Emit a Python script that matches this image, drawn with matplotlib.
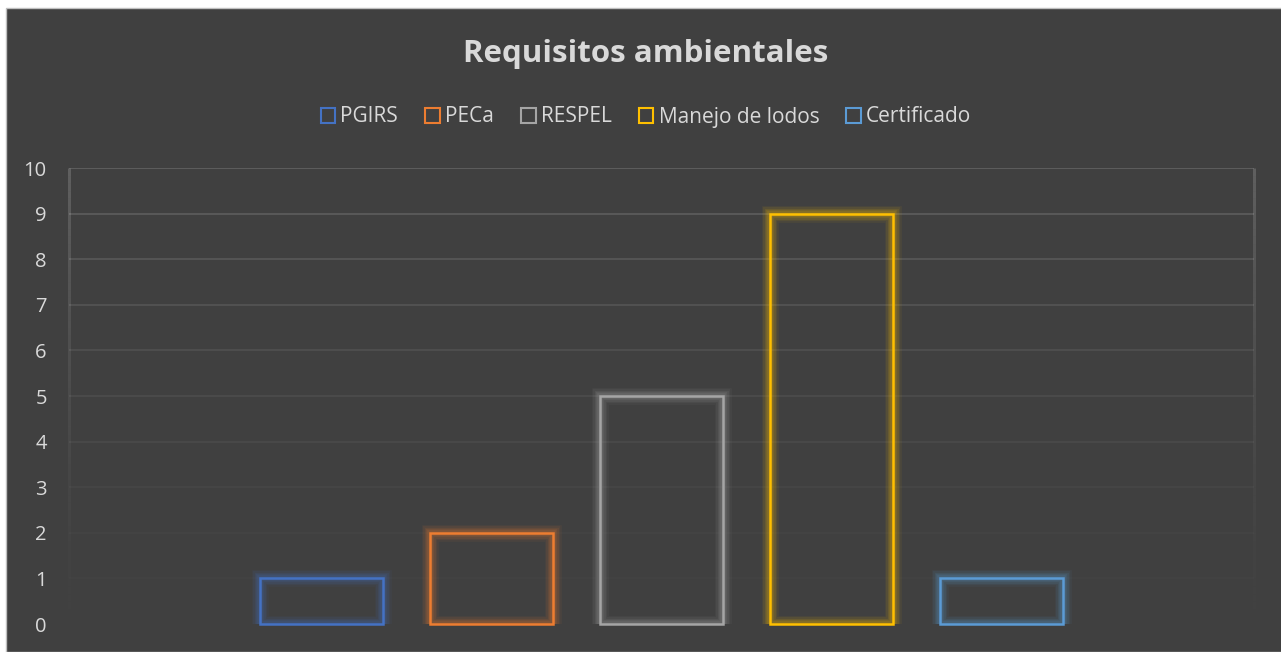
import matplotlib.pyplot as plt
import numpy as np
from matplotlib.patches import Patch, Rectangle
from matplotlib.collections import LineCollection

plt.rcParams['font.family'] = ['Open Sans', 'DejaVu Sans']

series = ["PGIRS", "PECa", "RESPEL", "Manejo de lodos", "Certificado"]
values = [1, 2, 5, 9, 1]
colors = ["#4472C4", "#ED7D31", "#A5A5A5", "#FFC000", "#5B9BD5"]
yticks = list(range(0, 11))

bg = "#404040"
txt = "#D9D9D9"

fig = plt.figure(figsize=(12.81, 6.52), dpi=100, facecolor="white")
fig.patches.append(Rectangle((6 / 1281, 0), 1, 1 - 8 / 652, transform=fig.transFigure,
                             facecolor=bg, edgecolor="#BFBFBF", linewidth=1, zorder=-10))

ax = fig.add_axes([69 / 1281, 1 - 624 / 652, (1254 - 69) / 1281, (624 - 168) / 652])
ax.set_facecolor("none")
for s in ax.spines.values():
    s.set_visible(False)

x = np.arange(len(series))
ax.set_xlim(-1.485, 5.485)
ax.set_ylim(0, 10)


def fade(v):
    return 0.005 + 0.16 * (v / 10) ** 1.5


# gridlines fade out towards the bottom
for t in yticks[1:]:
    ax.axhline(t, color="white", alpha=fade(t), linewidth=1.3, zorder=1)

# side frame of the plot area, fading as well
n = 60
ys = np.linspace(0, 10, n + 1)
for xe in (-1.485, 5.485):
    segs = [[(xe, ys[i]), (xe, ys[i + 1])] for i in range(n)]
    cols = [(1, 1, 1, fade((ys[i] + ys[i + 1]) / 2)) for i in range(n)]
    lc = LineCollection(segs, colors=cols, linewidths=2.2,
                        transform=ax.transData, clip_on=False, zorder=1)
    ax.add_collection(lc)

# glowing outlined bars
w = 0.72
for lw, al in [(12, 0.06), (10, 0.07), (8, 0.09), (6, 0.11), (4, 0.13)]:
    ax.bar(x, values, width=w, fill=False, edgecolor=colors, linewidth=lw,
           alpha=al, zorder=2)
ax.bar(x, values, width=w, fill=False, edgecolor=colors, linewidth=1.8,
       zorder=3, clip_on=False)

ax.set_yticks(yticks)
ax.set_xticks([])
ax.tick_params(axis="y", length=0, pad=16, labelsize=14.5, labelcolor=txt)

fig.text(646 / 1281, 1 - 54 / 652, "Requisitos ambientales", ha="center", va="center",
         fontsize=22.5, fontweight="bold", color=txt)

handles = [Patch(facecolor="none", edgecolor=c, linewidth=1.5, label=s)
           for s, c in zip(series, colors)]
leg = fig.legend(handles=handles, loc="center", bbox_to_anchor=(646 / 1281, 1 - 117 / 652),
                 ncol=5, frameon=False, fontsize=15, handlelength=0.7, handleheight=0.7,
                 handletextpad=0.25, columnspacing=1.3, labelcolor=txt)

fig.savefig("out.png", dpi=100, facecolor=fig.get_facecolor())
